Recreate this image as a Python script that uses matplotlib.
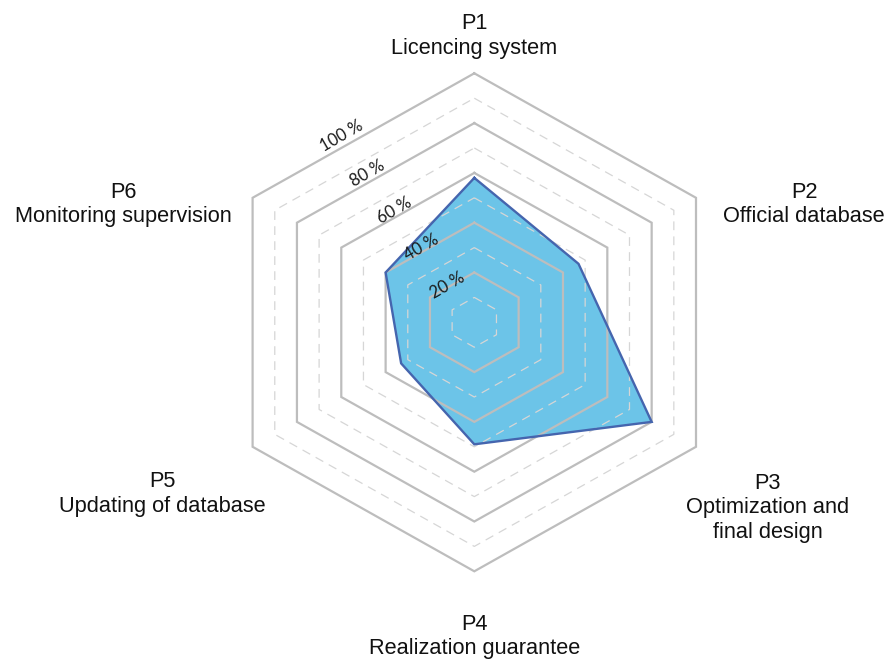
import numpy as np
import matplotlib
matplotlib.use("Agg")
import matplotlib.pyplot as plt

# ---- data ----
codes = ["P1", "P2", "P3", "P4", "P5", "P6"]
names = ["Licencing system", "Official database", "Optimization and\nfinal design",
         "Realization guarantee", "Updating of database", "Monitoring supervision"]
values = [58, 47, 80, 49, 33, 40]          # percent
solid_levels = [20, 40, 60, 80, 100]
dashed_levels = [10, 30, 50, 70, 90]
tick_labels = ["20 %", "40 %", "60 %", "80 %", "100 %"]

W, H, DPI = 887, 660, 100
fig = plt.figure(figsize=(W / DPI, H / DPI), dpi=DPI)
ax = fig.add_axes([0, 0, 1, 1])

# pixel scale of one percent unit (horizontal / vertical) and centre position
sx, sy = 2.56, 2.49
cx, cy = 474.3, 322.3
ax.set_xlim(-cx / sx, (W - cx) / sx)
ax.set_ylim(-(H - cy) / sy, cy / sy)
ax.axis("off")

angles = np.deg2rad(90 - 60 * np.arange(6))
ca, sa = np.cos(angles), np.sin(angles)

def ring(r):
    x = np.append(r * ca, r * ca[0])
    y = np.append(r * sa, r * sa[0])
    return x, y

# data polygon fill
v = np.array(values, dtype=float)
px = np.append(v * ca, v[0] * ca[0])
py = np.append(v * sa, v[0] * sa[0])
ax.fill(px, py, color="#6CC4E8", zorder=1, lw=0)

# grid
for r in dashed_levels:
    x, y = ring(r)
    ax.plot(x, y, color="#D6D6D6", lw=0.9, ls=(0, (7, 5)), zorder=2)
for r in solid_levels:
    x, y = ring(r)
    ax.plot(x, y, color="#BDBDBD", lw=1.6, zorder=3, solid_joinstyle="miter")

# data outline
ax.plot(px, py, color="#4565AE", lw=1.7, zorder=4, solid_joinstyle="miter")

# radial tick labels
for r, t in zip(solid_levels, tick_labels):
    ax.text(-0.52 * r, 0.747 * r, t, rotation=30, ha="center", va="center",
            fontsize=12, family=["Lato", "DejaVu Sans"], color="#1a1a1a", zorder=5,
            rotation_mode="anchor")

# category labels (positions in data units)
label_pos = [(0, 115), (128.8, 47.3), (114.6, -74.4), (0, -126.2), (-122, -69), (-137.2, 47.3)]
for (lx, ly), c, n in zip(label_pos, codes, names):
    ax.text(lx, ly, c + "\n" + n, ha="center", va="center", fontsize=15.7,
            family=["Liberation Sans", "DejaVu Sans"], linespacing=1.22, color="#111111")

fig.savefig("out.png", dpi=DPI)
